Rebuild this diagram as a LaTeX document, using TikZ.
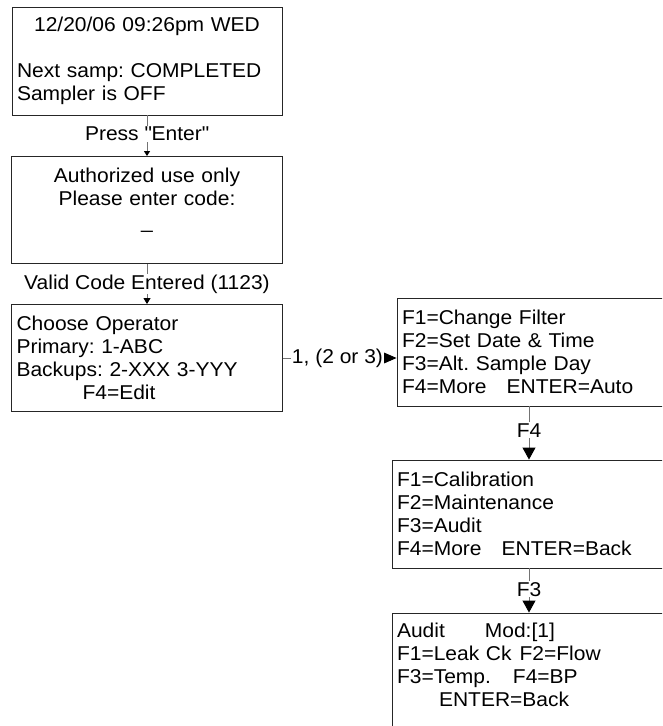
\documentclass[tikz,border=0pt]{standalone}
\usepackage{fontspec}
\setmainfont[FakeStretch=1.05]{Liberation Sans}
\usetikzlibrary{arrows.meta,positioning}
\tikzset{
  >={Triangle[length=6pt,width=7pt]}
}
\newcommand{\ctr}[1]{\makebox[\linewidth][c]{#1}}
\frenchspacing

\begin{document}
\begin{tikzpicture}[x=1pt,y=-1pt,
        scrn/.style={rectangle,draw=black!85,line width=0.9pt,inner xsep=5pt,inner ysep=0pt,
          align=left,font=\fontsize{20}{23}\selectfont},
        lbl/.style={fill=white,inner sep=1pt,font=\fontsize{20}{23}\selectfont},
        conn/.style={draw=black!55,line width=0.9pt,-{Triangle[length=6pt,width=7pt,color=black]}},
        bigconn/.style={conn,-{Triangle[length=12pt,width=13pt,color=black]}}
      ]
      \useasboundingbox (0,0) rectangle (662,726);
      \clip (0,0) rectangle (662,726);
      \node (HOME) at (147,61) [scrn,text width=260pt,minimum height=108pt]
        {\ctr{12/20/06 09:26pm WED}\\[23pt]Next samp: COMPLETED\\Sampler is OFF};
      \node (CODE) at (147,210) [scrn,text width=261pt,minimum height=107pt,align=center]
        {Authorized use only\\Please enter code:\\\_\\\mbox{}};
      \node (OPER) at (147,358) [scrn,text width=261pt,minimum height=107pt]
        {Choose Operator\\Primary: 1-ABC\\Backups: 2-XXX 3-YYY\\\hspace*{66pt}F4=Edit};
      \node (MENU) at (535,352) [scrn,text width=266pt,minimum height=108pt]
        {F1=Change Filter\\F2=Set Date \& Time\\F3=Alt. Sample Day\\F4=More\hspace{20pt}ENTER=Auto};
      \node (MAINT) at (529,514) [scrn,text width=264pt,minimum height=108pt]
        {F1=Calibration\\F2=Maintenance\\F3=Audit\\F4=More\hspace{20pt}ENTER=Back};
      \node (AUDIT) at (529,676) [scrn,text width=264pt,minimum height=126pt]
        {Audit\hspace{40pt}Mod:[1]\\F1=Leak Ck\hspace{8pt}F2=Flow\\F3=Temp.\hspace{22pt}F4=BP\\\hspace*{42pt}ENTER=Back\\\mbox{}};
      \draw[conn,-{Triangle[length=5pt,width=6pt,color=black]}] (HOME) -- node[lbl,pos=0.45] {Press \textquotedbl Enter\textquotedbl} (CODE);
      \draw[conn] (CODE) -- node[lbl,pos=0.5] {Valid Code Entered (1123)} (OPER);
      \draw[bigconn,-{Triangle[length=14pt,width=12pt,color=black]}] (OPER.east) -- node[lbl,pos=0.48] {1, (2 or 3)} (OPER.east -| MENU.west);
      \draw[bigconn] (MENU.south -| MAINT.north) -- node[lbl,pos=0.45] {F4} (MAINT.north);
      \draw[bigconn] (MAINT.south) -- node[lbl,pos=0.47] {F3} (AUDIT.north);
    \end{tikzpicture}
\end{document}
